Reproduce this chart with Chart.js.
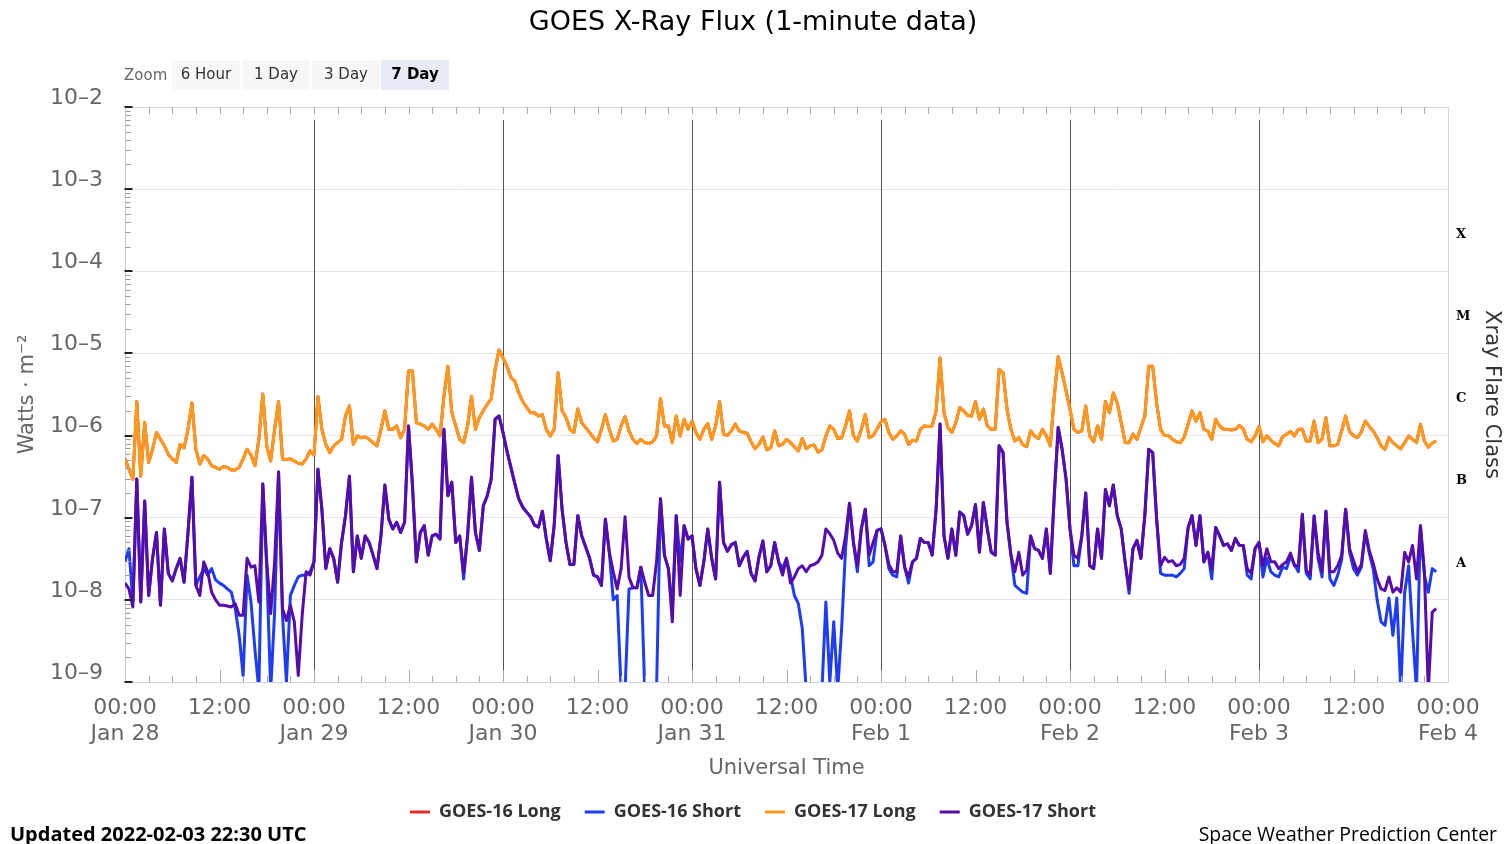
<!DOCTYPE html>
<html>
<head>
<meta charset="utf-8">
<title>GOES X-Ray Flux</title>
<script src="https://cdn.jsdelivr.net/npm/chart.js@4.4.1/dist/chart.umd.min.js"></script>
<style>
  html, body { margin: 0; padding: 0; background: #fff; }
  #wrap { position: relative; width: 1506px; height: 844px; overflow: hidden; font-family: "DejaVu Sans", sans-serif; }
  #chartBox { position: absolute; left: 0; top: 0; width: 1506px; height: 844px; }
  #title { position: absolute; left: 0; top: 4px; width: 1506px; text-align: center; font-size: 27px; line-height: 34px; color: #000; }
  #zoomLabel { position: absolute; left: 124px; top: 65px; font-size: 15px; line-height: 20px; color: #666; }
  .zbtn { position: absolute; top: 60px; width: 68px; height: 30px; line-height: 28px; text-align: center; font-size: 15px; color: #333; background: #f7f7f7; }
  .zbtn.on { background: #e6ebf5; font-weight: bold; color: #000; }
  #updated { position: absolute; left: 10px; top: 821px; font-family: "Open Sans", sans-serif; font-weight: bold; font-size: 20px; line-height: 26px; color: #000; }
  #credit { position: absolute; right: 9px; top: 821px; font-family: "Open Sans", sans-serif; font-size: 19.4px; line-height: 26px; color: #000; }
</style>
</head>
<body>
<div id="wrap">
  <div id="chartBox"><canvas id="xrayChart"></canvas></div>
  <div id="title">GOES X-Ray Flux (1-minute data)</div>
  <div id="zoomLabel">Zoom</div>
  <div class="zbtn" style="left:172px">6 Hour</div>
  <div class="zbtn" style="left:242px">1 Day</div>
  <div class="zbtn" style="left:312px">3 Day</div>
  <div class="zbtn on" style="left:381px">7 Day</div>
  <div id="updated">Updated 2022-02-03 22:30 UTC</div>
  <div id="credit">Space Weather Prediction Center</div>
</div>
<script>
// one sample every half hour from Jan 28 00:00 UTC (x axis is in hours)
const sampleStep = 0.5;

const dayLabels = ['Jan 28', 'Jan 29', 'Jan 30', 'Jan 31', 'Feb 1', 'Feb 2', 'Feb 3', 'Feb 4'];
const yTickValues = [1e-9, 1e-8, 1e-7, 1e-6, 1e-5, 1e-4, 1e-3, 1e-2];
const yTickLabels = ['10–9', '10–8', '10–7', '10–6', '10–5', '10–4', '10–3', '10–2'];
const flareClasses = ['A', 'B', 'C', 'M', 'X'];
const flareLevels = [2.8e-8, 2.8e-7, 2.8e-6, 2.8e-5, 2.8e-4];

// W/m^2
const goes17Long = [
  5.3e-7, 3.9e-7, 2.95e-7, 2.6e-6, 3.2e-7, 1.44e-6, 4.7e-7, 6.8e-7, 1.09e-6, 9.0e-7,
  7.5e-7, 5.9e-7, 5.2e-7, 4.7e-7, 7.8e-7, 7.1e-7, 1.19e-6, 2.5e-6, 6.8e-7, 4.5e-7,
  5.7e-7, 5.2e-7, 4.3e-7, 4.1e-7, 3.9e-7, 4.2e-7, 4.1e-7, 3.8e-7, 3.8e-7, 4.1e-7,
  5.2e-7, 6.8e-7, 5.8e-7, 4.3e-7, 9.0e-7, 3.2e-6, 7.5e-7, 4.9e-7, 1.19e-6, 2.6e-6,
  5.2e-7, 5.1e-7, 5.2e-7, 4.9e-7, 4.6e-7, 4.5e-7, 5.2e-7, 6.5e-7, 5.8e-7, 3.0e-6,
  1.19e-6, 7.8e-7, 6.2e-7, 7.5e-7, 8.2e-7, 9.0e-7, 1.73e-6, 2.3e-6, 7.8e-7, 9.9e-7,
  9.4e-7, 9.6e-7, 9.0e-7, 8.2e-7, 7.5e-7, 1.19e-6, 2.0e-6, 1.19e-6, 1.19e-6, 1.31e-6,
  9.4e-7, 1.19e-6, 6.1e-6, 6.1e-6, 1.44e-6, 1.38e-6, 1.31e-6, 1.19e-6, 1.38e-6, 1.19e-6,
  9.9e-7, 3.0e-6, 7.0e-6, 1.9e-6, 1.31e-6, 9.0e-7, 8.2e-7, 1.31e-6, 3.0e-6, 1.19e-6,
  1.66e-6, 2.0e-6, 2.4e-6, 2.8e-6, 6.4e-6, 1.1e-5, 8.8e-6, 7.0e-6, 5.1e-6, 4.6e-6,
  3.3e-6, 2.6e-6, 2.2e-6, 1.9e-6, 1.9e-6, 1.73e-6, 1.8e-6, 1.19e-6, 9.9e-7, 1.19e-6,
  5.8e-6, 2.0e-6, 1.66e-6, 1.19e-6, 1.09e-6, 2.1e-6, 1.44e-6, 1.25e-6, 1.09e-6, 9.4e-7,
  8.4e-7, 1.19e-6, 1.8e-6, 1.19e-6, 8.6e-7, 9.0e-7, 1.31e-6, 1.7e-6, 1.14e-6, 9.0e-7,
  8.0e-7, 9.0e-7, 8.2e-7, 8.0e-7, 8.4e-7, 9.9e-7, 2.8e-6, 1.31e-6, 1.31e-6, 8.2e-7,
  1.73e-6, 9.9e-7, 1.58e-6, 1.19e-6, 1.5e-6, 1.09e-6, 9.0e-7, 1.19e-6, 1.4e-6, 9.0e-7,
  1.31e-6, 2.6e-6, 1.04e-6, 1.0e-6, 1.14e-6, 1.38e-6, 1.14e-6, 1.09e-6, 1.07e-6, 8.4e-7,
  6.9e-7, 7.8e-7, 9.6e-7, 6.7e-7, 7.1e-7, 1.14e-6, 7.5e-7, 7.8e-7, 9.0e-7, 8.2e-7,
  7.3e-7, 6.5e-7, 9.2e-7, 6.9e-7, 7.5e-7, 7.7e-7, 6.3e-7, 6.7e-7, 9.9e-7, 1.31e-6,
  1.19e-6, 9.2e-7, 9.4e-7, 1.31e-6, 2.0e-6, 9.9e-7, 8.6e-7, 1.19e-6, 1.8e-6, 9.4e-7,
  1.0e-6, 1.2e-6, 1.46e-6, 1.58e-6, 1.09e-6, 9.0e-7, 9.9e-7, 1.14e-6, 1.04e-6, 7.8e-7,
  8.8e-7, 8.6e-7, 1.19e-6, 1.31e-6, 1.29e-6, 1.31e-6, 2.0e-6, 8.8e-6, 1.9e-6, 1.25e-6,
  1.09e-6, 1.44e-6, 2.2e-6, 2.0e-6, 1.76e-6, 1.73e-6, 2.6e-6, 1.58e-6, 2.1e-6, 1.31e-6,
  1.19e-6, 1.19e-6, 6.4e-6, 5.8e-6, 2.1e-6, 1.19e-6, 8.6e-7, 9.4e-7, 7.8e-7, 7.3e-7,
  1.14e-6, 9.9e-7, 9.2e-7, 1.19e-6, 9.9e-7, 7.5e-7, 3.0e-6, 9.1e-6, 5.8e-6, 3.5e-6,
  2.1e-6, 1.19e-6, 1.09e-6, 1.14e-6, 2.3e-6, 9.9e-7, 8.4e-7, 1.31e-6, 9.0e-7, 2.6e-6,
  1.9e-6, 3.3e-6, 2.5e-6, 1.44e-6, 8.2e-7, 8.2e-7, 1.04e-6, 9.0e-7, 1.25e-6, 1.73e-6,
  7.0e-6, 7.0e-6, 2.5e-6, 1.19e-6, 1.0e-6, 1.0e-6, 9.0e-7, 8.4e-7, 8.2e-7, 9.6e-7,
  1.38e-6, 2.0e-6, 1.5e-6, 1.9e-6, 1.19e-6, 1.14e-6, 9.0e-7, 1.58e-6, 1.31e-6, 1.19e-6,
  1.19e-6, 1.17e-6, 1.19e-6, 1.33e-6, 1.2e-6, 9.0e-7, 8.4e-7, 9.9e-7, 1.29e-6, 8.4e-7,
  9.9e-7, 8.8e-7, 8.0e-7, 7.5e-7, 9.7e-7, 1.04e-6, 1.12e-6, 9.9e-7, 1.19e-6, 1.19e-6,
  8.6e-7, 8.6e-7, 1.5e-6, 8.2e-7, 9.0e-7, 1.65e-6, 7.5e-7, 7.5e-7, 7.8e-7, 1.14e-6,
  1.73e-6, 1.11e-6, 1.0e-6, 9.4e-7, 1.11e-6, 1.5e-6, 1.29e-6, 1.14e-6, 9.4e-7, 7.5e-7,
  6.8e-7, 9.4e-7, 8.2e-7, 7.5e-7, 6.9e-7, 8.2e-7, 9.9e-7, 9.0e-7, 8.2e-7, 1.37e-6,
  8.6e-7, 7.2e-7, 8.1e-7, 8.6e-7
];

// GOES-16 Long lies right under GOES-17 Long in the picture
const goes16Long = goes17Long;

const goes17Short = [
  1.6e-8, 1.36e-8, 8.2e-9, 2.95e-7, 9.4e-9, 1.6e-7, 1.13e-8, 3.2e-8, 6.6e-8, 8.6e-9,
  7.3e-8, 2.1e-8, 1.7e-8, 2.4e-8, 3.2e-8, 1.64e-8, 6.6e-8, 3.1e-7, 1.5e-8, 1.13e-8,
  2.9e-8, 2.2e-8, 1.24e-8, 1.0e-8, 8.6e-9, 8.6e-9, 8.4e-9, 8.2e-9, 9.0e-9, 6.5e-9,
  6.5e-9, 3.2e-8, 2.5e-8, 2.6e-8, 9.4e-9, 2.6e-7, 2.9e-8, 6.8e-9, 2.9e-8, 3.6e-7,
  7.8e-9, 5.6e-9, 8.6e-9, 5.4e-9, 1.2e-9, 6.5e-9, 2.2e-8, 2.0e-8, 2.9e-8, 3.9e-7,
  1.27e-7, 2.4e-8, 4.2e-8, 3.2e-8, 1.64e-8, 5.0e-8, 1.06e-7, 3.2e-7, 2.2e-8, 6.0e-8,
  3.2e-8, 6.0e-8, 5.0e-8, 3.5e-8, 2.4e-8, 6.0e-8, 2.5e-7, 9.6e-8, 7.3e-8, 8.8e-8,
  6.6e-8, 8.8e-8, 1.31e-6, 2.5e-7, 2.9e-8, 6.6e-8, 8.0e-8, 3.5e-8, 6.0e-8, 6.3e-8,
  5.5e-8, 1.19e-6, 1.85e-7, 2.7e-7, 5.0e-8, 6.0e-8, 2.1e-8, 6.0e-8, 3.1e-7, 6.6e-8,
  4.0e-8, 1.4e-7, 1.85e-7, 2.95e-7, 1.58e-6, 1.73e-6, 1.09e-6, 6.5e-7, 4.1e-7, 2.6e-7,
  1.7e-7, 1.35e-7, 1.17e-7, 1.03e-7, 8.1e-8, 7.7e-8, 1.2e-7, 5.5e-8, 3.0e-8, 8.1e-8,
  5.7e-7, 1.27e-7, 5.0e-8, 2.7e-8, 2.7e-8, 1.06e-7, 6.0e-8, 4.4e-8, 3.2e-8, 2.0e-8,
  1.9e-8, 1.5e-8, 9.6e-8, 3.8e-8, 2.2e-8, 1.36e-8, 2.4e-8, 1.03e-7, 1.9e-8, 1.4e-8,
  1.4e-8, 2.5e-8, 1.64e-8, 1.13e-8, 1.13e-8, 2.9e-8, 1.7e-7, 3.5e-8, 2.4e-8, 5.4e-9,
  1.06e-7, 1.13e-8, 8.0e-8, 5.5e-8, 6.0e-8, 2.4e-8, 1.5e-8, 2.9e-8, 7.3e-8, 3.2e-8,
  1.8e-8, 2.7e-7, 5.0e-8, 3.9e-8, 4.7e-8, 5.0e-8, 2.6e-8, 3.3e-8, 3.9e-8, 2.1e-8,
  1.7e-8, 3.3e-8, 5.2e-8, 2.2e-8, 2.6e-8, 5.0e-8, 2.9e-8, 2.0e-8, 3.2e-8, 1.6e-8,
  1.9e-8, 2.4e-8, 2.6e-8, 2.2e-8, 2.6e-8, 2.7e-8, 2.9e-8, 3.5e-8, 7.3e-8, 6.4e-8,
  5.3e-8, 3.7e-8, 3.2e-8, 6.0e-8, 1.5e-7, 5.0e-8, 2.6e-8, 7.3e-8, 1.27e-7, 3.5e-8,
  5.0e-8, 7.0e-8, 7.3e-8, 4.6e-8, 2.7e-8, 2.2e-8, 2.2e-8, 6.0e-8, 2.5e-8, 1.9e-8,
  2.9e-8, 3.2e-8, 5.6e-8, 5.0e-8, 5.0e-8, 3.5e-8, 1.27e-7, 1.38e-6, 6.0e-8, 3.2e-8,
  7.3e-8, 3.5e-8, 1.17e-7, 1.06e-7, 6.3e-8, 8.0e-8, 1.45e-7, 3.8e-8, 1.53e-7, 7.3e-8,
  3.8e-8, 3.5e-8, 7.5e-7, 6.2e-7, 8.8e-8, 3.5e-8, 2.2e-8, 3.8e-8, 2.0e-8, 2.3e-8,
  6.0e-8, 4.2e-8, 4.0e-8, 3.2e-8, 7.3e-8, 2.1e-8, 1.85e-7, 1.25e-6, 6.8e-7, 2.95e-7,
  7.3e-8, 3.5e-8, 3.2e-8, 6.0e-8, 2.0e-7, 2.6e-8, 2.4e-8, 7.3e-8, 3.2e-8, 2.2e-7,
  1.4e-7, 2.5e-7, 1.06e-7, 7.3e-8, 2.9e-8, 1.36e-8, 4.2e-8, 5.3e-8, 3.2e-8, 1.06e-7,
  6.8e-7, 6.2e-7, 9.6e-8, 2.6e-8, 3.3e-8, 2.9e-8, 3.0e-8, 2.6e-8, 2.7e-8, 3.2e-8,
  7.6e-8, 1.06e-7, 4.6e-8, 1.06e-7, 2.9e-8, 3.8e-8, 2.4e-8, 7.6e-8, 6.0e-8, 4.6e-8,
  4.8e-8, 4.0e-8, 5.6e-8, 4.6e-8, 4.6e-8, 2.4e-8, 2.1e-8, 4.2e-8, 5.0e-8, 2.6e-8,
  4.2e-8, 2.9e-8, 2.9e-8, 2.4e-8, 2.7e-8, 2.9e-8, 3.7e-8, 2.6e-8, 2.6e-8, 1.1e-7,
  2.3e-8, 2.0e-8, 1.05e-7, 3.8e-8, 2.2e-8, 1.2e-7, 2.2e-8, 2.2e-8, 2.6e-8, 3.5e-8,
  1.27e-7, 4.2e-8, 3.0e-8, 2.2e-8, 2.7e-8, 7.0e-8, 4.0e-8, 2.8e-8, 1.8e-8, 1.36e-8,
  1.3e-8, 1.9e-8, 1.24e-8, 1.4e-8, 1.24e-8, 3.8e-8, 2.9e-8, 4.6e-8, 1.8e-8, 8.0e-8,
  2.2e-8, 8e-10, 7.1e-9, 7.8e-9
];

const goes16Short = [
  2.9e-8, 4.2e-8, 9.4e-9, 2.95e-7, 9.4e-9, 1.6e-7, 1.13e-8, 3.2e-8, 6.6e-8, 8.6e-9,
  7.3e-8, 2.1e-8, 1.7e-8, 2.4e-8, 3.2e-8, 1.64e-8, 6.6e-8, 3.1e-7, 1.5e-8, 1.9e-8,
  2.4e-8, 2.0e-8, 2.4e-8, 1.75e-8, 1.6e-8, 1.5e-8, 1.36e-8, 1.24e-8, 7.8e-9, 3.7e-9,
  1.2e-9, 2.0e-8, 9.4e-9, 2.5e-9, 8e-10, 2.5e-7, 2.4e-8, 8e-10, 7.1e-9, 3.6e-7,
  6.5e-9, 1e-9, 1.13e-8, 1.5e-8, 1.9e-8, 2.0e-8, 2.0e-8, 2.2e-8, 2.9e-8, 3.9e-7,
  1.27e-7, 2.4e-8, 4.2e-8, 3.2e-8, 1.64e-8, 5.0e-8, 1.06e-7, 3.2e-7, 2.2e-8, 6.0e-8,
  3.2e-8, 6.0e-8, 5.0e-8, 3.5e-8, 2.4e-8, 6.0e-8, 2.5e-7, 9.6e-8, 7.3e-8, 8.8e-8,
  6.6e-8, 8.8e-8, 1.31e-6, 2.5e-7, 2.9e-8, 6.6e-8, 8.0e-8, 3.5e-8, 6.0e-8, 6.3e-8,
  5.5e-8, 1.19e-6, 1.85e-7, 2.7e-7, 5.0e-8, 6.0e-8, 1.8e-8, 6.0e-8, 3.1e-7, 6.6e-8,
  4.0e-8, 1.4e-7, 1.85e-7, 2.95e-7, 1.58e-6, 1.73e-6, 1.09e-6, 6.5e-7, 4.1e-7, 2.6e-7,
  1.7e-7, 1.35e-7, 1.17e-7, 1.03e-7, 8.1e-8, 7.7e-8, 1.2e-7, 5.5e-8, 3.0e-8, 8.1e-8,
  5.7e-7, 1.27e-7, 5.0e-8, 2.7e-8, 2.7e-8, 1.06e-7, 6.0e-8, 4.4e-8, 3.2e-8, 2.0e-8,
  1.9e-8, 1.5e-8, 9.6e-8, 3.8e-8, 1.0e-8, 1.13e-8, 8e-10, 8e-10, 1.36e-8, 1.4e-8,
  1.4e-8, 2.5e-8, 8e-10, 8e-10, 8e-10, 8e-10, 1.7e-7, 3.5e-8, 2.4e-8, 7.8e-9,
  1.06e-7, 2.9e-8, 8.0e-8, 5.5e-8, 6.0e-8, 2.4e-8, 1.5e-8, 2.9e-8, 7.3e-8, 3.2e-8,
  1.8e-8, 2.7e-7, 5.0e-8, 3.9e-8, 4.7e-8, 5.0e-8, 2.6e-8, 3.3e-8, 3.9e-8, 2.1e-8,
  1.7e-8, 3.3e-8, 5.2e-8, 2.2e-8, 2.6e-8, 5.0e-8, 2.9e-8, 2.4e-8, 3.2e-8, 2.0e-8,
  1.13e-8, 9.0e-9, 4.5e-9, 8e-10, 8e-10, 8e-10, 8e-10, 8e-10, 9.4e-9, 1e-9,
  5.4e-9, 8e-10, 4.5e-9, 4.2e-8, 1.5e-7, 5.0e-8, 2.2e-8, 7.3e-8, 1.27e-7, 2.6e-8,
  2.9e-8, 7.0e-8, 7.3e-8, 4.6e-8, 2.4e-8, 2.0e-8, 1.9e-8, 6.0e-8, 2.5e-8, 1.6e-8,
  2.9e-8, 3.2e-8, 5.6e-8, 5.0e-8, 5.0e-8, 3.5e-8, 1.27e-7, 1.38e-6, 6.0e-8, 3.2e-8,
  7.3e-8, 3.5e-8, 1.17e-7, 1.06e-7, 6.3e-8, 8.0e-8, 1.45e-7, 3.8e-8, 1.53e-7, 7.3e-8,
  3.8e-8, 3.5e-8, 7.5e-7, 6.2e-7, 8.8e-8, 3.5e-8, 1.5e-8, 1.36e-8, 1.24e-8, 1.2e-8,
  6.0e-8, 4.2e-8, 4.0e-8, 3.2e-8, 7.3e-8, 2.1e-8, 1.85e-7, 1.25e-6, 6.8e-7, 2.95e-7,
  7.3e-8, 2.6e-8, 2.6e-8, 6.0e-8, 2.0e-7, 2.6e-8, 2.4e-8, 7.3e-8, 3.2e-8, 2.2e-7,
  1.4e-7, 2.5e-7, 1.06e-7, 7.3e-8, 2.9e-8, 1.2e-8, 4.2e-8, 5.3e-8, 3.2e-8, 1.06e-7,
  6.8e-7, 6.2e-7, 9.6e-8, 2.1e-8, 2.0e-8, 2.0e-8, 2.0e-8, 1.9e-8, 2.1e-8, 2.4e-8,
  7.6e-8, 1.06e-7, 4.6e-8, 1.06e-7, 2.9e-8, 3.8e-8, 1.8e-8, 7.6e-8, 6.0e-8, 4.6e-8,
  4.8e-8, 4.0e-8, 5.6e-8, 4.6e-8, 4.6e-8, 2.0e-8, 1.8e-8, 4.2e-8, 5.0e-8, 1.9e-8,
  3.2e-8, 2.2e-8, 2.0e-8, 1.9e-8, 2.5e-8, 2.4e-8, 3.4e-8, 2.7e-8, 2.2e-8, 1.1e-7,
  2.1e-8, 1.8e-8, 1.05e-7, 3.2e-8, 1.9e-8, 1.2e-7, 1.8e-8, 1.5e-8, 2.0e-8, 3.1e-8,
  1.27e-7, 3.8e-8, 2.4e-8, 2.0e-8, 2.5e-8, 6.5e-8, 3.7e-8, 2.4e-8, 1.0e-8, 5.4e-9,
  4.9e-9, 1.05e-8, 3.7e-9, 1.05e-8, 8e-10, 1.24e-8, 2.6e-8, 4.1e-9, 8e-10, 8.0e-8,
  2.0e-8, 1.24e-8, 2.4e-8, 2.2e-8
];

const hours = goes17Long.map((v, i) => i * sampleStep);

Chart.defaults.font.family = '"DejaVu Sans", sans-serif';

// day lines, edge frame and the small inside tick marks
const plotFrame = {
  id: 'plotFrame',
  beforeDatasetsDraw(chart) {
    const { ctx, chartArea: a, scales: { x } } = chart;
    ctx.save();
    ctx.lineWidth = 1;
    ctx.strokeStyle = '#555';
    for (let d = 1; d < dayLabels.length - 1; d++) {
      const px = Math.round(x.getPixelForValue(d * 24)) + 0.5;
      ctx.beginPath();
      ctx.moveTo(px, a.top + 13);
      ctx.lineTo(px, a.bottom - 12);
      ctx.stroke();
    }
    ctx.restore();
  },
  afterDraw(chart) {
    const { ctx, chartArea: a, scales: { x, y } } = chart;
    ctx.save();
    ctx.lineWidth = 1;
    ctx.strokeStyle = '#ccd6eb';
    ctx.beginPath();
    ctx.moveTo(a.left, a.top + 0.5);
    ctx.lineTo(a.right, a.top + 0.5);
    ctx.stroke();

    ctx.strokeStyle = '#aaa';
    x.ticks.forEach(t => {
      if (t.value <= 0 || t.value >= 168) return;
      const px = Math.round(x.getPixelForValue(t.value)) + 0.5;
      const len = t.value % 12 === 0 ? 12 : 6;
      ctx.beginPath();
      ctx.moveTo(px, a.bottom);
      ctx.lineTo(px, a.bottom - len);
      ctx.moveTo(px, a.top);
      ctx.lineTo(px, a.top + 7);
      ctx.stroke();
    });

    const left = Math.round(a.left) + 0.5;
    ctx.strokeStyle = '#999';
    for (let e = -9; e < -2; e++) {
      for (let m = 2; m < 10; m++) {
        const py = Math.round(y.getPixelForValue(m * Math.pow(10, e))) + 0.5;
        ctx.beginPath();
        ctx.moveTo(left, py);
        ctx.lineTo(left + 5, py);
        ctx.stroke();
      }
    }
    ctx.strokeStyle = '#222';
    ctx.lineWidth = 2;
    yTickValues.forEach(v => {
      const py = Math.round(y.getPixelForValue(v));
      ctx.beginPath();
      ctx.moveTo(left - 1, py);
      ctx.lineTo(left + 7, py);
      ctx.stroke();
    });
    ctx.restore();
  }
};

function lineSet(label, data, color, order) {
  return {
    label: label,
    data: data,
    borderColor: color,
    backgroundColor: color,
    borderWidth: 3,
    borderJoinStyle: 'round',
    pointRadius: 0,
    tension: 0,
    order: order
  };
}

new Chart(document.getElementById('xrayChart'), {
  type: 'line',
  data: {
    labels: hours,
    datasets: [
      lineSet('GOES-16 Long', goes16Long, '#e8262b', 4),
      lineSet('GOES-16 Short', goes16Short, '#1e3cf5', 3),
      lineSet('GOES-17 Long', goes17Long, '#ff9a1a', 2),
      lineSet('GOES-17 Short', goes17Short, '#550cab', 1)
    ]
  },
  options: {
    responsive: true,
    maintainAspectRatio: false,
    animation: false,
    events: [],
    layout: { padding: { top: 107, bottom: 13, left: 0, right: 0 } },
    scales: {
      x: {
        type: 'linear',
        min: 0,
        max: 168,
        afterFit: s => { s.height = 97; },
        ticks: {
          stepSize: 3,
          autoSkip: false,
          maxRotation: 0,
          minRotation: 0,
          padding: 13,
          color: '#666',
          font: { size: 22 },
          callback: v => {
            if (v % 24 === 0) return ['00:00', dayLabels[v / 24]];
            if (v % 12 === 0) return '12:00';
            return '';
          }
        },
        grid: { display: false, drawTicks: false },
        border: { color: '#ccd6eb' },
        title: {
          display: true,
          text: 'Universal Time',
          color: '#666',
          font: { size: 21, lineHeight: 1.0 },
          padding: { top: 0, bottom: 0 }
        }
      },
      y: {
        type: 'logarithmic',
        position: 'left',
        min: 1e-9,
        max: 1e-2,
        afterBuildTicks: s => { s.ticks = yTickValues.map(v => ({ value: v })); },
        afterFit: s => { s.width = 125; },
        ticks: {
          padding: 22,
          color: '#666',
          font: { size: 22, lineHeight: 0.8 },
          callback: (v, i) => [yTickLabels[i], '']
        },
        grid: { color: '#e6e6e6', drawTicks: false },
        border: { color: '#c8c8c8' },
        title: {
          display: true,
          text: 'Watts · m⁻²',
          color: '#666',
          font: { size: 21 },
          padding: { top: 15, bottom: 0 }
        }
      },
      y2: {
        type: 'logarithmic',
        position: 'right',
        min: 1e-9,
        max: 1e-2,
        afterBuildTicks: s => { s.ticks = flareLevels.map(v => ({ value: v })); },
        afterFit: s => { s.width = 58; },
        ticks: {
          padding: 8,
          color: '#000',
          font: { family: '"DejaVu Serif", serif', weight: 'bold', size: 13 },
          callback: (v, i) => flareClasses[i]
        },
        grid: { display: false, drawTicks: false },
        border: { color: '#ccd6eb' },
        title: {
          display: true,
          text: 'Xray Flare Class',
          color: '#333',
          font: { size: 21 },
          padding: { top: 2, bottom: 0 }
        }
      }
    },
    plugins: {
      legend: {
        position: 'bottom',
        labels: {
          usePointStyle: true,
          pointStyle: 'line',
          pointStyleWidth: 20,
          padding: 24,
          color: '#333',
          font: { family: '"Open Sans", sans-serif', weight: 'bold', size: 18 },
          sort: (a, b) => a.datasetIndex - b.datasetIndex
        }
      },
      tooltip: { enabled: false }
    }
  },
  plugins: [plotFrame]
});
</script>
</body>
</html>
